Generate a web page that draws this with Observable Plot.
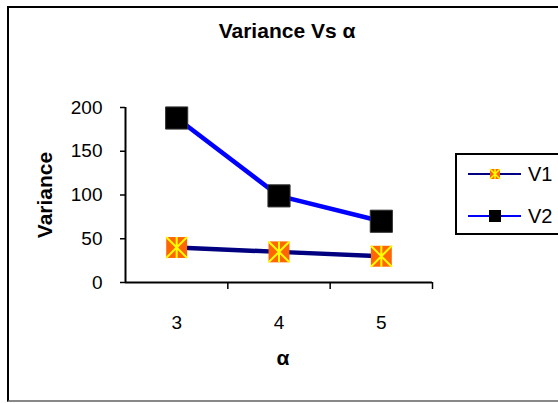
<!DOCTYPE html>
<html>
<head>
<meta charset="utf-8">
<script src="https://cdn.jsdelivr.net/npm/d3@7"></script>
<script src="https://cdn.jsdelivr.net/npm/@observablehq/plot@0.6"></script>
<style>
  html, body { margin: 0; padding: 0; background: #fff; }
  #wrap { position: relative; width: 558px; height: 403px; overflow: hidden; font-family: "Liberation Sans", Arial, sans-serif; }
  #frame { position: absolute; left: 7px; top: 6px; width: 600px; height: 396px; border-left: 2px solid #000; border-top: 2px solid #000; border-bottom: 2px solid #888; box-sizing: border-box; }
  #chart { position: absolute; left: 0; top: 0; }
  #legend { position: absolute; left: 0; top: 0; }
</style>
</head>
<body>
<div id="wrap">
  <div id="frame"></div>
  <div id="chart"></div>
  <svg id="legend" width="558" height="403"></svg>
</div>
<script>
const categories = [3, 4, 5];
const v1 = [40, 35, 30];
const v2 = [188, 99, 70];
const yTicks = [0, 50, 100, 150, 200];
const seriesNames = ["V1", "V2"];
const lineColors = ["#000080", "#0000FF"];
const titleText = "Variance Vs α";
const yLabel = "Variance";
const xLabel = "α";

const data = categories.map((c, i) => ({alpha: c, V1: v1[i], V2: v2[i]}));
const boundaries = categories.map(c => c + 0.5);

const star = {
  draw(ctx, size) {
    const h = Math.sqrt(size) / 2;
    ctx.moveTo(-h, -h); ctx.lineTo(h, h);
    ctx.moveTo(h, -h); ctx.lineTo(-h, h);
    ctx.moveTo(0, -h); ctx.lineTo(0, h);
  }
};

const font = "'Liberation Sans', Arial, sans-serif";

const plot = Plot.plot({
  width: 558,
  height: 403,
  marginLeft: 125,
  marginRight: 126,
  marginTop: 107,
  marginBottom: 121,
  style: {fontFamily: font, color: "#000", background: "transparent", overflow: "visible"},
  x: {type: "linear", domain: [categories[0] - 0.5, categories[categories.length - 1] + 0.5]},
  y: {domain: [0, 200]},
  marks: [
    Plot.axisY({ticks: yTicks, tickSize: 5, tickPadding: 18, label: null, fontSize: 19, strokeWidth: 1.5}),
    Plot.axisX({ticks: boundaries, tickSize: 7, tickFormat: () => "", label: null, strokeWidth: 1.5}),
    Plot.axisX({ticks: categories, tickSize: 0, tickPadding: 33, label: null, fontSize: 19, tickFormat: d => String(d)}),
    Plot.ruleX([categories[0] - 0.5], {stroke: "#000", strokeWidth: 2}),
    Plot.ruleY([0], {stroke: "#000", strokeWidth: 2}),
    Plot.line(data, {x: "alpha", y: "V1", stroke: lineColors[0], strokeWidth: 4.5}),
    Plot.line(data, {x: "alpha", y: "V2", stroke: lineColors[1], strokeWidth: 4.5}),
    Plot.dot(data, {x: "alpha", y: "V2", symbol: "square", r: 12.5, fill: "#000", stroke: "#333", strokeWidth: 1}),
    Plot.dot(data, {x: "alpha", y: "V1", symbol: "square", r: 11.8, fill: "#FF6600"}),
    Plot.dot(data, {x: "alpha", y: "V1", symbol: star, r: 11.8, fill: "none", stroke: "#FFFF00", strokeWidth: 2}),
    Plot.text([titleText], {frameAnchor: "top", lineAnchor: "middle", textAnchor: "middle", dx: 8, dy: -76, fontSize: 21, fontWeight: "bold", fill: "#000"}),
    Plot.text([yLabel], {frameAnchor: "left", lineAnchor: "middle", textAnchor: "middle", dx: -80, rotate: -90, fontSize: 21, fontWeight: "bold", fill: "#000"}),
    Plot.text([xLabel], {frameAnchor: "bottom", lineAnchor: "middle", textAnchor: "middle", dx: 4, dy: 76, fontSize: 21, fontWeight: "bold", fill: "#000"})
  ]
});
document.getElementById("chart").appendChild(plot);

// Legend
const lg = d3.select("#legend");
lg.append("rect").attr("x", 456).attr("y", 154).attr("width", 120).attr("height", 80)
  .attr("fill", "#fff").attr("stroke", "#000").attr("stroke-width", 2);
seriesNames.forEach((name, i) => {
  const y = 174 + i * 42;
  lg.append("line").attr("x1", 468).attr("x2", 521).attr("y1", y).attr("y2", y)
    .attr("stroke", lineColors[i]).attr("stroke-width", 2);
  if (i === 0) {
    lg.append("rect").attr("x", 490).attr("y", y - 5).attr("width", 10).attr("height", 10).attr("fill", "#FF6600");
    lg.append("path").attr("d", `M${490},${y-5}L${500},${y+5}M${500},${y-5}L${490},${y+5}M${495},${y-5}L${495},${y+5}`)
      .attr("stroke", "#FFFF00").attr("stroke-width", 1.5).attr("fill", "none");
  } else {
    lg.append("rect").attr("x", 489).attr("y", y - 6).attr("width", 12).attr("height", 12).attr("fill", "#000");
  }
  lg.append("text").attr("x", 528).attr("y", y).attr("dy", "0.35em")
    .attr("font-family", font).attr("font-size", 20).attr("fill", "#000").text(name);
});
</script>
</body>
</html>
